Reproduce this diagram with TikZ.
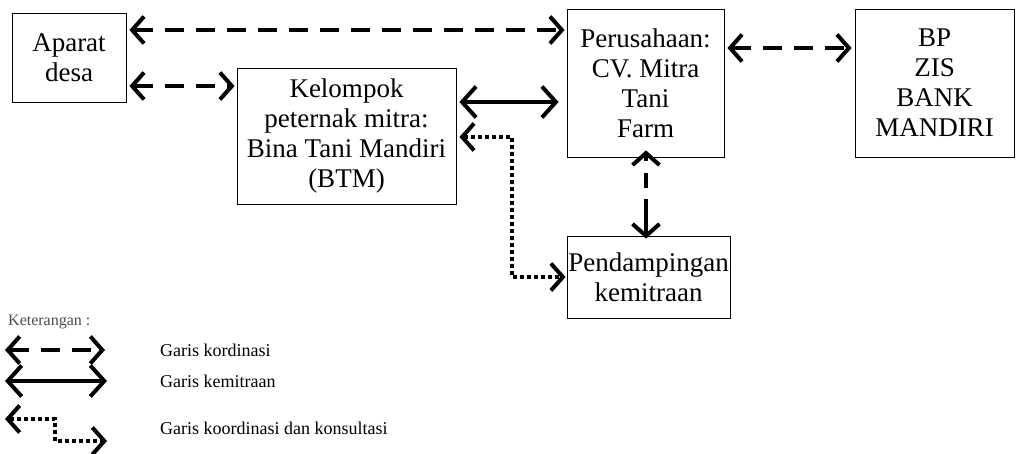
\documentclass[tikz,border=0pt]{standalone}
\usepackage{fontspec}
\setmainfont{Liberation Serif}
\usetikzlibrary{arrows.meta,calc}
\begin{document}
\begin{tikzpicture}[x=1pt,y=-1pt,
  box/.style={draw=black, line width=0.8pt, rectangle, inner sep=0pt, align=center,
    font=\fontsize{27}{30}\selectfont},
  coord/.style={line width=4pt, dash pattern=on 19pt off 12pt,
    {Straight Barb[length=12pt,width=27pt]}-{Straight Barb[length=12pt,width=27pt]}},
  partner/.style={line width=4pt,
    {Straight Barb[length=14pt,width=31pt]}-{Straight Barb[length=14pt,width=31pt]}},
  consult/.style={line width=4pt, dash pattern=on 4pt off 3pt,
    {Straight Barb[length=12pt,width=27pt]}-{Straight Barb[length=12pt,width=27pt]}},
  legtext/.style={anchor=west, inner sep=0pt, font=\fontsize{18}{20}\selectfont}
]
\useasboundingbox (0,0) rectangle (1016,454);

% boxes
\node[box, minimum width=114pt, minimum height=89pt] (apar) at (69,57.5) {Aparat\\desa};
\node[box, minimum width=219pt, minimum height=136pt] (kel) at (346.5,136) {Kelompok\\peternak mitra:\\Bina Tani Mandiri\\(BTM)};
\node[box, minimum width=157pt, minimum height=148pt] (per) at (645.5,83) {Perusahaan:\\CV. Mitra\\Tani\\Farm};
\node[box, minimum width=159pt, minimum height=148pt] (bp) at (934.5,83) {BP\\ZIS\\BANK\\MANDIRI};
\node[box, minimum width=163pt, minimum height=82pt] (pend) at (648.5,277) {Pendampingan\\kemitraan};

% connectors
\draw[coord] ([xshift=3pt]apar.east |- 0,30) -- ([xshift=-2pt]per.west |- 0,30);
\draw[coord] ([xshift=3pt]apar.east |- 0,86) -- ([xshift=-2pt]kel.west |- 0,86);
\draw[partner] ([xshift=3pt]kel.east |- 0,102) -- ([xshift=-8pt]per.west |- 0,102);
\draw[coord] ([xshift=3pt]per.east |- 0,48) -- ([xshift=-3pt]bp.west |- 0,48);
\draw[coord, dash pattern=on 6pt off 12pt on 15pt off 11pt on 40pt off 1pt]
  ([yshift=7pt]per.south -| 646,0) -- ([yshift=-3pt]pend.north -| 646,0);
\draw[consult] ([xshift=3pt]kel.east |- 0,137) -| ($(pend.west)+(-55,0)$) -- ([xshift=-1pt]pend.west);

% legend
\node[anchor=west, inner sep=0pt, font=\fontsize{16}{18}\selectfont, text=black!70] (ket) at (8,322) {Keterangan :};
\coordinate (l1a) at (5,350); \coordinate (l1b) at (105,350);
\coordinate (l2a) at (5,381); \coordinate (l2b) at (107,381);
\coordinate (l3a) at (5,419); \coordinate (l3m) at (55,441); \coordinate (l3b) at (107,441);
\draw[coord] (l1a) -- (l1b);
\draw[partner] (l2a) -- (l2b);
\draw[consult] (l3a) -| (l3m) -- (l3b);
\node[legtext] (t1) at (160,350) {Garis kordinasi};
\node[legtext] (t2) at (160,381) {Garis kemitraan};
\node[legtext] (t3) at (160,428) {Garis koordinasi dan konsultasi};
\end{tikzpicture}
\end{document}
